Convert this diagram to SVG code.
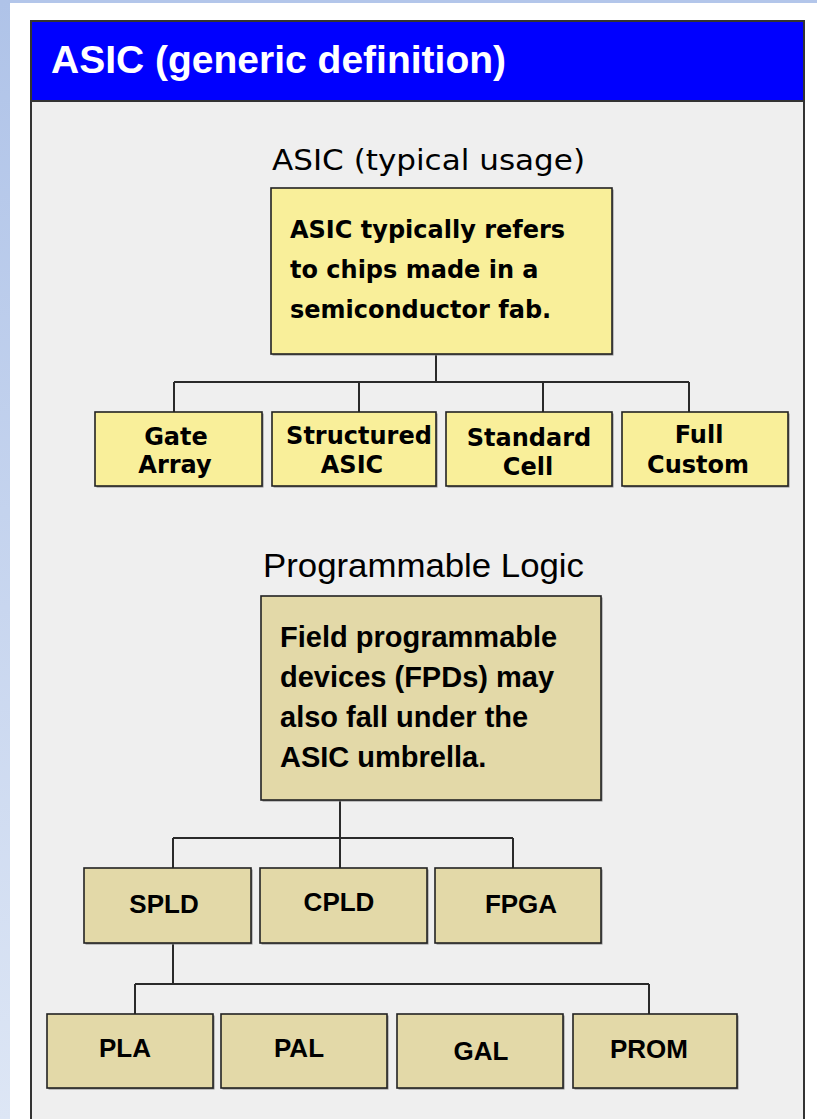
<svg xmlns="http://www.w3.org/2000/svg" width="817" height="1119" viewBox="0 0 817 1119">
  <defs>
    <linearGradient id="edge" x1="0" y1="0" x2="0" y2="1">
      <stop offset="0" stop-color="#afc3e8"/>
      <stop offset="1" stop-color="#dde6f5"/>
    </linearGradient>
    <style>
      .wire { stroke: #2a2a2a; stroke-width: 2; fill: none; }
      .shade { fill: #8a8a8a; }
      .asic { fill: #f9ef9a; stroke: #222; stroke-width: 1.6; }
      .pld { fill: #e3d9a8; stroke: #222; stroke-width: 1.6; }
      .head { font-family: "Liberation Sans", Arial, sans-serif; font-weight: bold; font-size: 39px; fill: #fff; }
      .sec1 { font-family: "DejaVu Sans", Verdana, sans-serif; font-size: 29px; fill: #000; }
      .t1 { font-family: "DejaVu Sans", Verdana, sans-serif; font-weight: bold; font-size: 24px; fill: #000; }
      .sec2 { font-family: "Liberation Sans", Arial, sans-serif; font-size: 33px; fill: #000; }
      .t2 { font-family: "Liberation Sans", Arial, sans-serif; font-weight: bold; font-size: 29px; fill: #000; }
      .t3 { font-family: "Liberation Sans", Arial, sans-serif; font-weight: bold; font-size: 26px; fill: #000; }
      .mid { text-anchor: middle; }
    </style>
  </defs>

  <!-- page background -->
  <rect x="0" y="0" width="817" height="1119" fill="#ffffff"/>
  <rect x="0" y="0" width="817" height="3" fill="#b3c6ea"/>
  <rect x="0" y="0" width="10" height="1119" fill="url(#edge)"/>

  <!-- panel -->
  <g id="panel">
    <rect x="31" y="101" width="773" height="1040" fill="#efefef" stroke="#333" stroke-width="2"/>
    <rect x="31" y="21" width="773" height="80" fill="#0000ff" stroke="#333" stroke-width="2"/>
    <text class="head" x="51" y="73">ASIC (generic definition)</text>
  </g>

  <!-- section captions -->
  <text id="caption-asic" class="sec1" x="272" y="170" textLength="313" lengthAdjust="spacingAndGlyphs">ASIC (typical usage)</text>
  <text id="caption-pl" class="sec2" x="263" y="577" textLength="321" lengthAdjust="spacingAndGlyphs">Programmable Logic</text>

  <!-- connectors -->
  <g id="connectors" class="wire">
    <path d="M436 354 V382 M174 382 H689 M174 382 V412 M359 382 V412 M543 382 V412 M689 382 V412"/>
    <path d="M340 800 V838 M173 838 H513 M173 838 V868 M340 838 V868 M513 838 V868"/>
    <path d="M173 943 V984 M135 984 H649 M135 984 V1014 M649 984 V1014"/>
  </g>

  <!-- ASIC tree -->
  <g id="asic-root">
    <rect class="shade" x="272.5" y="189.5" width="341" height="166"/>
    <rect class="asic" x="271" y="188" width="341" height="166"/>
    <text class="t1" x="290" y="238">ASIC typically refers</text>
    <text class="t1" x="290" y="278">to chips made in a</text>
    <text class="t1" x="290" y="318">semiconductor fab.</text>
  </g>
  <g id="gate-array">
    <rect class="shade" x="96.5" y="413.5" width="167" height="74"/>
    <rect class="asic" x="95" y="412" width="167" height="74"/>
    <text class="t1 mid" x="176" y="445">Gate</text>
    <text class="t1 mid" x="175" y="473">Array</text>
  </g>
  <g id="structured-asic">
    <rect class="shade" x="273.5" y="413.5" width="164" height="74"/>
    <rect class="asic" x="272" y="412" width="164" height="74"/>
    <text class="t1 mid" x="359" y="444">Structured</text>
    <text class="t1 mid" x="352" y="473">ASIC</text>
  </g>
  <g id="standard-cell">
    <rect class="shade" x="447.5" y="413.5" width="166" height="74"/>
    <rect class="asic" x="446" y="412" width="166" height="74"/>
    <text class="t1 mid" x="529" y="446">Standard</text>
    <text class="t1 mid" x="528" y="475">Cell</text>
  </g>
  <g id="full-custom">
    <rect class="shade" x="623.5" y="413.5" width="166" height="74"/>
    <rect class="asic" x="622" y="412" width="166" height="74"/>
    <text class="t1 mid" x="699" y="443">Full</text>
    <text class="t1 mid" x="698" y="473">Custom</text>
  </g>

  <!-- programmable logic tree -->
  <g id="fpd-root">
    <rect class="shade" x="262.5" y="597.5" width="340" height="204"/>
    <rect class="pld" x="261" y="596" width="340" height="204"/>
    <text class="t2" x="280" y="647">Field programmable</text>
    <text class="t2" x="280" y="687">devices (FPDs) may</text>
    <text class="t2" x="280" y="727">also fall under the</text>
    <text class="t2" x="280" y="767">ASIC umbrella.</text>
  </g>
  <g id="spld">
    <rect class="shade" x="85.5" y="869.5" width="167" height="75"/>
    <rect class="pld" x="84" y="868" width="167" height="75"/>
    <text class="t3 mid" x="164" y="913">SPLD</text>
  </g>
  <g id="cpld">
    <rect class="shade" x="261.5" y="869.5" width="167" height="75"/>
    <rect class="pld" x="260" y="868" width="167" height="75"/>
    <text class="t3 mid" x="339" y="911">CPLD</text>
  </g>
  <g id="fpga">
    <rect class="shade" x="436.5" y="869.5" width="166" height="75"/>
    <rect class="pld" x="435" y="868" width="166" height="75"/>
    <text class="t3 mid" x="521" y="913">FPGA</text>
  </g>
  <g id="pla">
    <rect class="shade" x="48.5" y="1015.5" width="166" height="74"/>
    <rect class="pld" x="47" y="1014" width="166" height="74"/>
    <text class="t3 mid" x="125" y="1057">PLA</text>
  </g>
  <g id="pal">
    <rect class="shade" x="222.5" y="1015.5" width="166" height="74"/>
    <rect class="pld" x="221" y="1014" width="166" height="74"/>
    <text class="t3 mid" x="299" y="1057">PAL</text>
  </g>
  <g id="gal">
    <rect class="shade" x="398.5" y="1015.5" width="166" height="74"/>
    <rect class="pld" x="397" y="1014" width="166" height="74"/>
    <text class="t3 mid" x="481" y="1060">GAL</text>
  </g>
  <g id="prom">
    <rect class="shade" x="574.5" y="1015.5" width="164" height="74"/>
    <rect class="pld" x="573" y="1014" width="164" height="74"/>
    <text class="t3 mid" x="649" y="1058">PROM</text>
  </g>
</svg>
